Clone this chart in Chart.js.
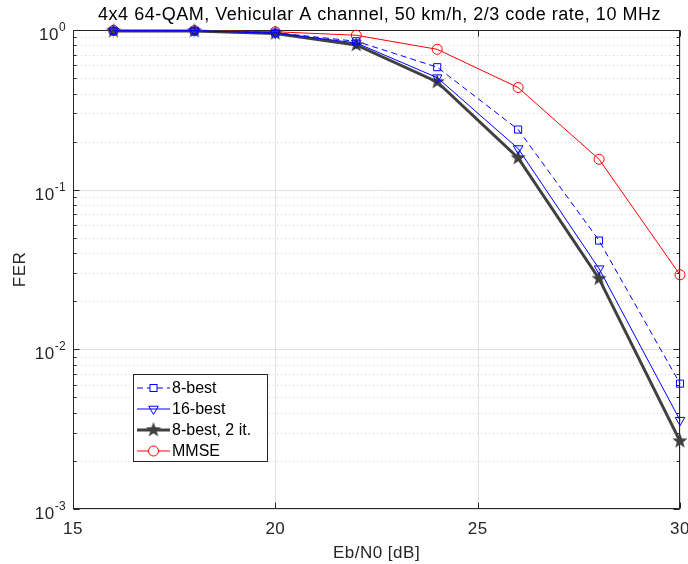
<!DOCTYPE html>
<html>
<head>
<meta charset="utf-8">
<script src="https://cdn.jsdelivr.net/npm/chart.js@4.4.0/dist/chart.umd.min.js"></script>
<style>
  html, body { margin: 0; padding: 0; background: #fff; }
  #wrap { width: 688px; height: 564px; }
</style>
</head>
<body>
<div id="wrap"><canvas id="fer-chart" width="688" height="564"></canvas></div>
<script>
// Eb/N0 points (dB) and frame error rate per detector
const ebN0 = [16, 18, 20, 22, 24, 26, 28, 30];
const fer8Best = [0.99, 0.99, 0.962, 0.85, 0.585, 0.238, 0.048, 0.0061];
const fer16Best = [0.99, 0.99, 0.955, 0.83, 0.503, 0.181, 0.032, 0.0036];
const fer8Best2It = [0.985, 0.985, 0.952, 0.806, 0.473, 0.158, 0.0277, 0.00266];
const ferMmse = [0.995, 0.992, 0.975, 0.927, 0.757, 0.436, 0.155, 0.0293];

const xTicks = [15, 20, 25, 30];
const yDecades = [0, -1, -2, -3];
const seriesNames = ["8-best", "16-best", "8-best, 2 it.", "MMSE"];
const chartTitle = "4x4 64-QAM, Vehicular A channel, 50 km/h, 2/3 code rate, 10 MHz";
const xTitle = "Eb/N0 [dB]";
const yTitle = "FER";

const AXIS = "#262626";
const FONT = "Liberation Sans, Arial, Helvetica, sans-serif";

// filled five point star used as marker
const makeStar = (r, color) => {
    const c = document.createElement("canvas");
    c.width = c.height = Math.ceil(r * 2 + 2);
    const g = c.getContext("2d");
    const cx = c.width / 2, cy = c.height / 2;
    g.beginPath();
    for (let i = 0; i < 10; i++) {
        const rad = i % 2 === 0 ? r : r * 0.42;
        const a = -Math.PI / 2 + i * Math.PI / 5;
        g.lineTo(cx + rad * Math.cos(a), cy + rad * Math.sin(a));
    }
    g.closePath();
    g.fillStyle = color;
    g.fill();
    return c;
};
const starMarker = makeStar(8, "#404040");

const seriesStyles = [
    { color: "#0000ff", width: 1, dash: [6, 4], marker: "rect", radius: 5, rotation: 0 },
    { color: "#0000ff", width: 1, dash: [], marker: "triangle", radius: 5.5, rotation: 180 },
    { color: "#404040", width: 3, dash: [], marker: starMarker, radius: 7, rotation: 0 },
    { color: "#ff0000", width: 1, dash: [], marker: "circle", radius: 5, rotation: 0 },
];

const seriesData = [fer8Best, fer16Best, fer8Best2It, ferMmse];

const datasets = seriesData.map((vals, i) => {
    const s = seriesStyles[i];
    return {
        label: seriesNames[i],
        data: vals.map((v, k) => ({ x: ebN0[k], y: v })),
        borderColor: s.color,
        borderWidth: s.width,
        borderDash: s.dash,
        pointStyle: s.marker,
        pointRadius: s.radius,
        pointRotation: s.rotation,
        pointBorderColor: s.color,
        pointBorderWidth: 1,
        pointBackgroundColor: "rgba(0,0,0,0)",
        tension: 0,
        clip: false,
    };
});

const setFont = (ctx, size, spacing) => {
    ctx.font = size + "px " + FONT;
    if ("letterSpacing" in ctx) ctx.letterSpacing = (spacing || 0) + "px";
};

// grid, box, ticks and labels
const axesPlugin = {
    id: "axesPlugin",
    beforeDraw(chart) {
        const ctx = chart.ctx;
        ctx.save();
        ctx.fillStyle = "#fff";
        ctx.fillRect(0, 0, chart.width, chart.height);
        ctx.restore();
    },
    beforeDatasetsDraw(chart) {
        const { ctx, chartArea: a, scales } = chart;
        const xs = scales.x, ys = scales.y;
        ctx.save();

        // minor grid (dotted)
        ctx.strokeStyle = "#cdcdcd";
        ctx.lineWidth = 1;
        ctx.setLineDash([1, 3]);
        for (let d = -3; d < 0; d++) {
            for (let m = 2; m <= 9; m++) {
                const y = Math.round(ys.getPixelForValue(m * Math.pow(10, d))) + 0.5;
                ctx.beginPath();
                ctx.moveTo(a.left, y);
                ctx.lineTo(a.right, y);
                ctx.stroke();
            }
        }
        // major grid
        ctx.setLineDash([]);
        ctx.strokeStyle = "#e0e0e0";
        xTicks.forEach((t) => {
            const x = Math.round(xs.getPixelForValue(t)) + 0.5;
            ctx.beginPath();
            ctx.moveTo(x, a.top);
            ctx.lineTo(x, a.bottom);
            ctx.stroke();
        });
        yDecades.forEach((d) => {
            const y = Math.round(ys.getPixelForValue(Math.pow(10, d))) + 0.5;
            ctx.beginPath();
            ctx.moveTo(a.left, y);
            ctx.lineTo(a.right, y);
            ctx.stroke();
        });

        // box
        const L = a.left + 0.5, R = a.right - 0.5, T = a.top + 0.5, B = a.bottom - 0.5;
        ctx.strokeStyle = AXIS;
        ctx.lineWidth = 1;
        ctx.strokeRect(L, T, R - L, B - T);

        // ticks (inward, both sides)
        ctx.beginPath();
        xTicks.forEach((t) => {
            const x = Math.round(xs.getPixelForValue(t)) + 0.5;
            ctx.moveTo(x, B); ctx.lineTo(x, B - 6);
            ctx.moveTo(x, T); ctx.lineTo(x, T + 6);
        });
        for (let d = -3; d <= 0; d++) {
            const y = Math.round(ys.getPixelForValue(Math.pow(10, d))) + 0.5;
            ctx.moveTo(L, y); ctx.lineTo(L + 6, y);
            ctx.moveTo(R, y); ctx.lineTo(R - 6, y);
            if (d === 0) continue;
            for (let m = 2; m <= 9; m++) {
                const ym = Math.round(ys.getPixelForValue(m * Math.pow(10, d))) + 0.5;
                ctx.moveTo(L, ym); ctx.lineTo(L + 3, ym);
                ctx.moveTo(R, ym); ctx.lineTo(R - 3, ym);
            }
        }
        ctx.stroke();

        // x tick labels
        ctx.fillStyle = AXIS;
        setFont(ctx, 17, 0.5);
        ctx.textAlign = "center";
        ctx.textBaseline = "alphabetic";
        xTicks.forEach((t) => {
            ctx.fillText(String(t), xs.getPixelForValue(t), 534);
        });

        // y tick labels 10^d
        yDecades.forEach((d) => {
            const y = ys.getPixelForValue(Math.pow(10, d));
            const exp = String(d);
            setFont(ctx, 12, 0.3);
            const ew = ctx.measureText(exp).width;
            ctx.textAlign = "left";
            ctx.fillText(exp, 66 - ew, y + 1);
            setFont(ctx, 17, 0.5);
            ctx.textAlign = "right";
            ctx.fillText("10", 66 - ew, y + 10);
        });

        // axis titles and chart title
        setFont(ctx, 17, 0.5);
        ctx.textAlign = "center";
        ctx.fillText(xTitle, (a.left + a.right) / 2, 558);
        ctx.save();
        ctx.translate(25, (a.top + a.bottom) / 2);
        ctx.rotate(-Math.PI / 2);
        ctx.fillText(yTitle, 0, 0);
        ctx.restore();

        ctx.fillStyle = "#000";
        setFont(ctx, 18, 0.5);
        ctx.fillText(chartTitle, (a.left + a.right) / 2 + 3, 20);
        ctx.restore();
    },
};

// legend box in the lower left of the plot
const legendPlugin = {
    id: "legendPlugin",
    afterDatasetsDraw(chart) {
        const ctx = chart.ctx;
        const bx = 133, by = 374, bw = 134, bh = 87;
        ctx.save();
        ctx.fillStyle = "#fff";
        ctx.fillRect(bx, by, bw, bh);
        ctx.strokeStyle = AXIS;
        ctx.lineWidth = 1;
        ctx.strokeRect(bx + 0.5, by + 0.5, bw, bh);

        seriesNames.forEach((name, i) => {
            const s = seriesStyles[i];
            const y = 388 + i * 21;
            const x0 = 137, x1 = 170, xm = (x0 + x1) / 2;
            ctx.strokeStyle = s.color;
            ctx.lineWidth = s.width;
            ctx.setLineDash(s.dash);
            ctx.beginPath();
            ctx.moveTo(x0, y);
            ctx.lineTo(x1, y);
            ctx.stroke();
            ctx.setLineDash([]);
            ctx.lineWidth = 1;
            ctx.beginPath();
            if (s.marker === "rect") {
                ctx.fillStyle = "#fff";
                ctx.fillRect(xm - 3.5, y - 3.5, 7, 7);
                ctx.strokeRect(xm - 3.5, y - 3.5, 7, 7);
            } else if (s.marker === "triangle") {
                const r = s.radius;
                ctx.moveTo(xm - r * 0.866, y - r / 2);
                ctx.lineTo(xm + r * 0.866, y - r / 2);
                ctx.lineTo(xm, y + r);
                ctx.closePath();
                ctx.stroke();
            } else if (s.marker === "circle") {
                ctx.fillStyle = "#fff";
                ctx.arc(xm, y, s.radius, 0, Math.PI * 2);
                ctx.fill();
                ctx.stroke();
            } else {
                ctx.drawImage(s.marker, xm - s.marker.width / 2, y - s.marker.height / 2);
            }
            ctx.fillStyle = "#000";
            setFont(ctx, 16, 0);
            ctx.textAlign = "left";
            ctx.textBaseline = "middle";
            ctx.fillText(name, 172, y + 1);
        });
        ctx.restore();
    },
};

const ctx = document.getElementById("fer-chart").getContext("2d");
const ferChart = new Chart(ctx, {
    type: "line",
    data: { datasets },
    options: {
        responsive: false,
        animation: false,
        layout: { padding: { left: 73, right: 8, top: 30, bottom: 55 } },
        plugins: {
            legend: { display: false },
            title: { display: false },
            tooltip: { enabled: false },
        },
        scales: {
            x: { type: "linear", min: 15, max: 30, display: false },
            y: { type: "logarithmic", min: 0.001, max: 1, display: false },
        },
    },
    plugins: [axesPlugin, legendPlugin],
});
</script>
</body>
</html>
